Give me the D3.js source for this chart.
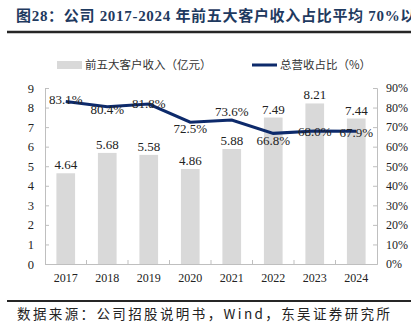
<!DOCTYPE html>
<html><head><meta charset="utf-8">
<script src="https://cdn.jsdelivr.net/npm/d3@7"></script>
<style>
body{margin:0;background:#fff;}
svg{display:block;}
</style></head>
<body>
<script>
const years = ["2017","2018","2019","2020","2021","2022","2023","2024"];
const revenue = [4.64, 5.68, 5.58, 4.86, 5.88, 7.49, 8.21, 7.44];
const share = [83.1, 80.4, 81.8, 72.5, 73.6, 66.8, 68.0, 67.9];
const leftTicks = [0,1,2,3,4,5,6,7,8,9];
const rightTicks = [0,10,20,30,40,50,60,70,80,90];
const seriesNames = ["前五大客户收入（亿元）", "总营收占比（%）"];
const titleText = "图28：公司 2017-2024 年前五大客户收入占比平均 70%以上";
const sourceText = "数据来源：公司招股说明书，Wind，东吴证券研究所";
// label vertical nudges (style only)
const pctLabelDy = [-2, 3, -1, 6, -9, 7, 0, 1];

const W = 411, H = 331;
const serif = "'Liberation Serif','Noto Sans CJK SC',serif";
const cjk = "'Noto Sans CJK SC','Liberation Serif',sans-serif";
const svg = d3.select("body").append("svg").attr("width", W).attr("height", H);

// title
svg.append("text").attr("x", 16).attr("y", 21)
  .attr("font-family", serif).attr("font-weight", "bold").attr("font-size", 15)
  .attr("letter-spacing", 0.7).attr("fill", "#1f3a60").text(titleText);
svg.append("line").attr("x1", 7).attr("x2", W).attr("y1", 32).attr("y2", 32)
  .attr("stroke", "#262626").attr("stroke-width", 2.5);

const m = {l: 45, r: 377, t: 88, b: 264};
const x = d3.scaleBand().domain(years).range([m.l, m.r]).paddingInner(0).paddingOuter(0);
const yL = d3.scaleLinear().domain([0, 9]).range([m.b, m.t]);
const yR = d3.scaleLinear().domain([0, 90]).range([m.b, m.t]);
const axisColor = "#bfbfbf";

// bars
const bw = x.bandwidth() * 0.45;
svg.append("g").selectAll("rect").data(revenue).join("rect")
  .attr("x", (d, i) => x(years[i]) + (x.bandwidth() - bw) / 2)
  .attr("y", d => yL(d)).attr("width", bw).attr("height", d => yL(0) - yL(d))
  .attr("fill", "#d9d9d9");

// axes
const gL = svg.append("g").attr("transform", `translate(${m.l},0)`)
  .call(d3.axisRight(yL).tickValues(leftTicks).tickSize(4).tickFormat(d3.format("d")));
gL.selectAll("text").attr("x", -11).attr("text-anchor", "end");
const gR = svg.append("g").attr("transform", `translate(${m.r},0)`)
  .call(d3.axisLeft(yR).tickValues(rightTicks).tickSize(4).tickFormat(d => d + "%"));
gR.selectAll("text").attr("x", 9).attr("text-anchor", "start");
const gB = svg.append("g").attr("transform", `translate(0,${m.b})`)
  .call(d3.axisTop(x).tickSize(0).tickFormat(d => d));
gB.selectAll("text").attr("y", 18).attr("dy", 0);
// boundary tick marks
const bounds = years.slice(1).map(y => x(y));
gB.selectAll("line.bt").data(bounds).join("line").attr("class", "bt")
  .attr("x1", d => d).attr("x2", d => d).attr("y1", 0).attr("y2", -4)
  .attr("stroke", axisColor);
[gL, gR, gB].forEach(g => {
  g.selectAll(".domain").attr("stroke", axisColor);
  g.selectAll(".tick line").attr("stroke", axisColor);
  g.selectAll("text").attr("font-family", serif).attr("font-size", 12.5).attr("fill", "#222");
});
gB.selectAll("text").attr("font-size", 12);
gR.selectAll("text").attr("font-size", 12);

// bar labels
svg.append("g").selectAll("text").data(revenue).join("text")
  .attr("x", (d, i) => x(years[i]) + x.bandwidth() / 2)
  .attr("y", d => yL(d) - 4).attr("text-anchor", "middle")
  .attr("font-family", serif).attr("font-size", 13).attr("fill", "#222")
  .text(d => d.toFixed(2));

// line
const line = d3.line().x((d, i) => x(years[i]) + x.bandwidth() / 2).y(d => yR(d));
svg.append("path").datum(share).attr("d", line).attr("fill", "none")
  .attr("stroke", "#0d2a6b").attr("stroke-width", 3);

// pct labels
svg.append("g").selectAll("text").data(share).join("text")
  .attr("x", (d, i) => x(years[i]) + x.bandwidth() / 2)
  .attr("y", (d, i) => yR(d) + pctLabelDy[i]).attr("dy", "0.35em").attr("text-anchor", "middle")
  .attr("font-family", serif).attr("font-size", 13).attr("fill", "#222")
  .text(d => d.toFixed(1) + "%");

// legend
svg.append("rect").attr("x", 57).attr("y", 61).attr("width", 25).attr("height", 8).attr("fill", "#d9d9d9");
svg.append("text").attr("x", 85).attr("y", 65).attr("dy", "0.35em")
  .attr("font-family", cjk).attr("font-size", 11.5).attr("fill", "#333").text(seriesNames[0]);
svg.append("line").attr("x1", 252).attr("x2", 277).attr("y1", 65).attr("y2", 65)
  .attr("stroke", "#0d2a6b").attr("stroke-width", 3);
svg.append("text").attr("x", 280).attr("y", 65).attr("dy", "0.35em")
  .attr("font-family", cjk).attr("font-size", 11.5).attr("fill", "#333").text(seriesNames[1]);

// footer
svg.append("line").attr("x1", 7).attr("x2", W).attr("y1", 301).attr("y2", 301)
  .attr("stroke", "#262626").attr("stroke-width", 1.8);
svg.append("text").attr("x", 17).attr("y", 319)
  .attr("font-family", cjk).attr("font-size", 13.5).attr("fill", "#222")
  .attr("textLength", 373).attr("lengthAdjust", "spacing").text(sourceText);
</script>
</body></html>
